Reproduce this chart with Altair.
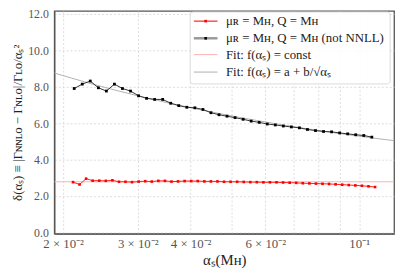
import altair as alt
import pandas as pd
import numpy as np

# ---- data ----
red_alpha = [0.02110, 0.02187, 0.02266, 0.02348, 0.02434, 0.02522, 0.02614, 0.02709,
             0.02807, 0.02909, 0.03015, 0.03125, 0.03238, 0.03356, 0.03478, 0.03604,
             0.03735, 0.03871, 0.04012, 0.04158, 0.04309, 0.04465, 0.04628, 0.04796,
             0.04970, 0.05151, 0.05338, 0.05532, 0.05733, 0.05941, 0.06157, 0.06381,
             0.06613, 0.06853, 0.07102, 0.07360, 0.07628, 0.07905, 0.08192, 0.08490,
             0.08799, 0.09119, 0.09450, 0.09794, 0.10150, 0.10519, 0.10901]
red_delta = [2.76, 2.63, 2.95, 2.84, 2.84, 2.83, 2.86, 2.78, 2.78, 2.76, 2.79, 2.81,
             2.79, 2.83, 2.83, 2.79, 2.80, 2.82, 2.82, 2.82, 2.80, 2.80, 2.80, 2.78,
             2.78, 2.78, 2.77, 2.76, 2.76, 2.75, 2.75, 2.75, 2.74, 2.73, 2.72, 2.70,
             2.69, 2.68, 2.67, 2.66, 2.64, 2.62, 2.60, 2.58, 2.56, 2.53, 2.49]

black_alpha = [0.02124, 0.02219, 0.02318, 0.02422, 0.02530, 0.02643, 0.02761, 0.02885,
               0.03014, 0.03148, 0.03289, 0.03436, 0.03590, 0.03750, 0.03918, 0.04093,
               0.04276, 0.04467, 0.04667, 0.04875, 0.05093, 0.05321, 0.05559, 0.05807,
               0.06067, 0.06338, 0.06621, 0.06917, 0.07226, 0.07549, 0.07887, 0.08239,
               0.08608, 0.08993, 0.09395, 0.09815, 0.10254, 0.10712]
black_delta = [7.90, 8.14, 8.31, 7.94, 7.76, 8.14, 7.90, 7.76, 7.50, 7.36, 7.30, 7.30,
               7.09, 6.96, 6.87, 6.84, 6.75, 6.57, 6.46, 6.38, 6.30, 6.21, 6.11, 6.04,
               5.95, 5.90, 5.84, 5.79, 5.74, 5.65, 5.59, 5.54, 5.52, 5.46, 5.41, 5.36,
               5.32, 5.23]

fit_const = 2.78
fit_a = 2.59
fit_b = 0.851

x_ticks = [0.02, 0.03, 0.04, 0.05, 0.06, 0.07, 0.08, 0.09, 0.1]
x_tick_text = {0.02: "2 × 10⁻²", 0.03: "3 × 10⁻²", 0.04: "4 × 10⁻²",
               0.06: "6 × 10⁻²", 0.1: "10⁻¹"}
y_ticks = [0, 2, 4, 6, 8, 10, 12]

legend_labels = ["μʀ = Mʜ, Q = Mʜ",
                 "μʀ = Mʜ, Q = Mʜ (not NNLL)",
                 "Fit: f(αₛ) = const",
                 "Fit: f(αₛ) = a + b/√αₛ"]

X_DOMAIN = [0.01906, 0.1209]
Y_DOMAIN = [-0.065, 12.155]
FONT = "Liberation Serif"

red_df = pd.DataFrame({"alpha": red_alpha, "delta": red_delta})
black_df = pd.DataFrame({"alpha": black_alpha, "delta": black_delta})
fit_x = np.geomspace(X_DOMAIN[0], X_DOMAIN[1], 80)
fit_df = pd.DataFrame({"alpha": fit_x, "delta": fit_a + fit_b / np.sqrt(fit_x)})
const_df = pd.DataFrame({"alpha": X_DOMAIN, "delta": [fit_const, fit_const]})

expr = " : ".join(
    f"abs(datum.value - {v}) < 1e-9 ? '{t}'" for v, t in x_tick_text.items()
) + " : ''"

x_enc = alt.X("alpha:Q",
              scale=alt.Scale(type="log", domain=X_DOMAIN, nice=False),
              axis=alt.Axis(values=x_ticks, labelExpr=expr, title="αₛ(Mʜ)",
                            labelFlush=False, labelOverlap=False))
y_enc = alt.Y("delta:Q",
              scale=alt.Scale(domain=Y_DOMAIN, nice=False, zero=False),
              axis=alt.Axis(values=y_ticks, format=".1f",
                            title="δ(αₛ) ≡ |Γɴɴʟᴏ − Γɴʟᴏ|/Γʟᴏ/αₛ²"))

const_line = alt.Chart(const_df).mark_line(color="#ffb0b0", strokeWidth=1, clip=True).encode(x=x_enc, y=y_enc)
fit_line = alt.Chart(fit_df).mark_line(color="#b0b0b0", strokeWidth=1, clip=True).encode(x=x_enc, y=y_enc)
red_line = alt.Chart(red_df).mark_line(color="#ff2020", strokeWidth=1).encode(x=x_enc, y=y_enc)
red_pts = alt.Chart(red_df).mark_point(shape="square", filled=True, size=7, color="#ff0000", opacity=1).encode(x=x_enc, y=y_enc)
black_line = alt.Chart(black_df).mark_line(color="#333333", strokeWidth=1).encode(x=x_enc, y=y_enc)
black_pts = alt.Chart(black_df).mark_point(shape="square", filled=True, size=8, color="#000000", opacity=1).encode(x=x_enc, y=y_enc)

one = pd.DataFrame({"k": [0]})
legend_layers = [
    alt.Chart(one).mark_rect(fill="white", stroke="#d8d8d8", strokeWidth=1,
                             cornerRadius=3, opacity=0.9).encode(
        x=alt.value(138), x2=alt.value(341), y=alt.value(1), y2=alt.value(74))
]
row_y = [10.3, 27.7, 44.3, 62.0]
line_styles = [("#ff2020", 1.2), ("#999999", 2.5), ("#ffb0b0", 1), ("#b0b0b0", 1)]
for i, lab in enumerate(legend_labels):
    col, w = line_styles[i]
    legend_layers.append(
        alt.Chart(one).mark_rule(color=col, strokeWidth=w).encode(
            x=alt.value(141.7), x2=alt.value(165.7), y=alt.value(row_y[i])))
    if i < 2:
        legend_layers.append(
            alt.Chart(one).mark_point(shape="square", filled=True, size=7, opacity=1,
                                      color="#ff0000" if i == 0 else "#000000").encode(
                x=alt.value(153.7), y=alt.value(row_y[i])))
    legend_layers.append(
        alt.Chart(one).mark_text(text=lab, align="left", baseline="middle",
                                 font=FONT, fontSize=13, color="#222222").encode(
            x=alt.value(174.3), y=alt.value(row_y[i])))

chart = alt.layer(const_line, fit_line, red_line, red_pts, black_line, black_pts,
                  *legend_layers).properties(
    width=345, height=226,
    padding={"left": 47, "top": 1, "right": 5, "bottom": 40},
    autosize=alt.AutoSizeParams(type="none"),
).configure_view(
    stroke="#555555", strokeWidth=1.3
).configure_axis(
    grid=True, gridColor="#d4d4d4", gridDash=[2, 2], gridWidth=0.8,
    domainColor="#555555", domainWidth=1.3,
    ticks=False, labelFont=FONT, labelFontSize=12, labelColor="#555555",
    titleFont=FONT, titleFontSize=13, titleFontWeight="normal", titleColor="#222222",
).configure_axisX(
    labelPadding=4, titlePadding=2, labelFontSize=13, titleFontSize=15
).configure_axisY(
    labelPadding=6, titlePadding=3
)

chart.save("out.html", embed_options={"renderer": "svg", "actions": False})
